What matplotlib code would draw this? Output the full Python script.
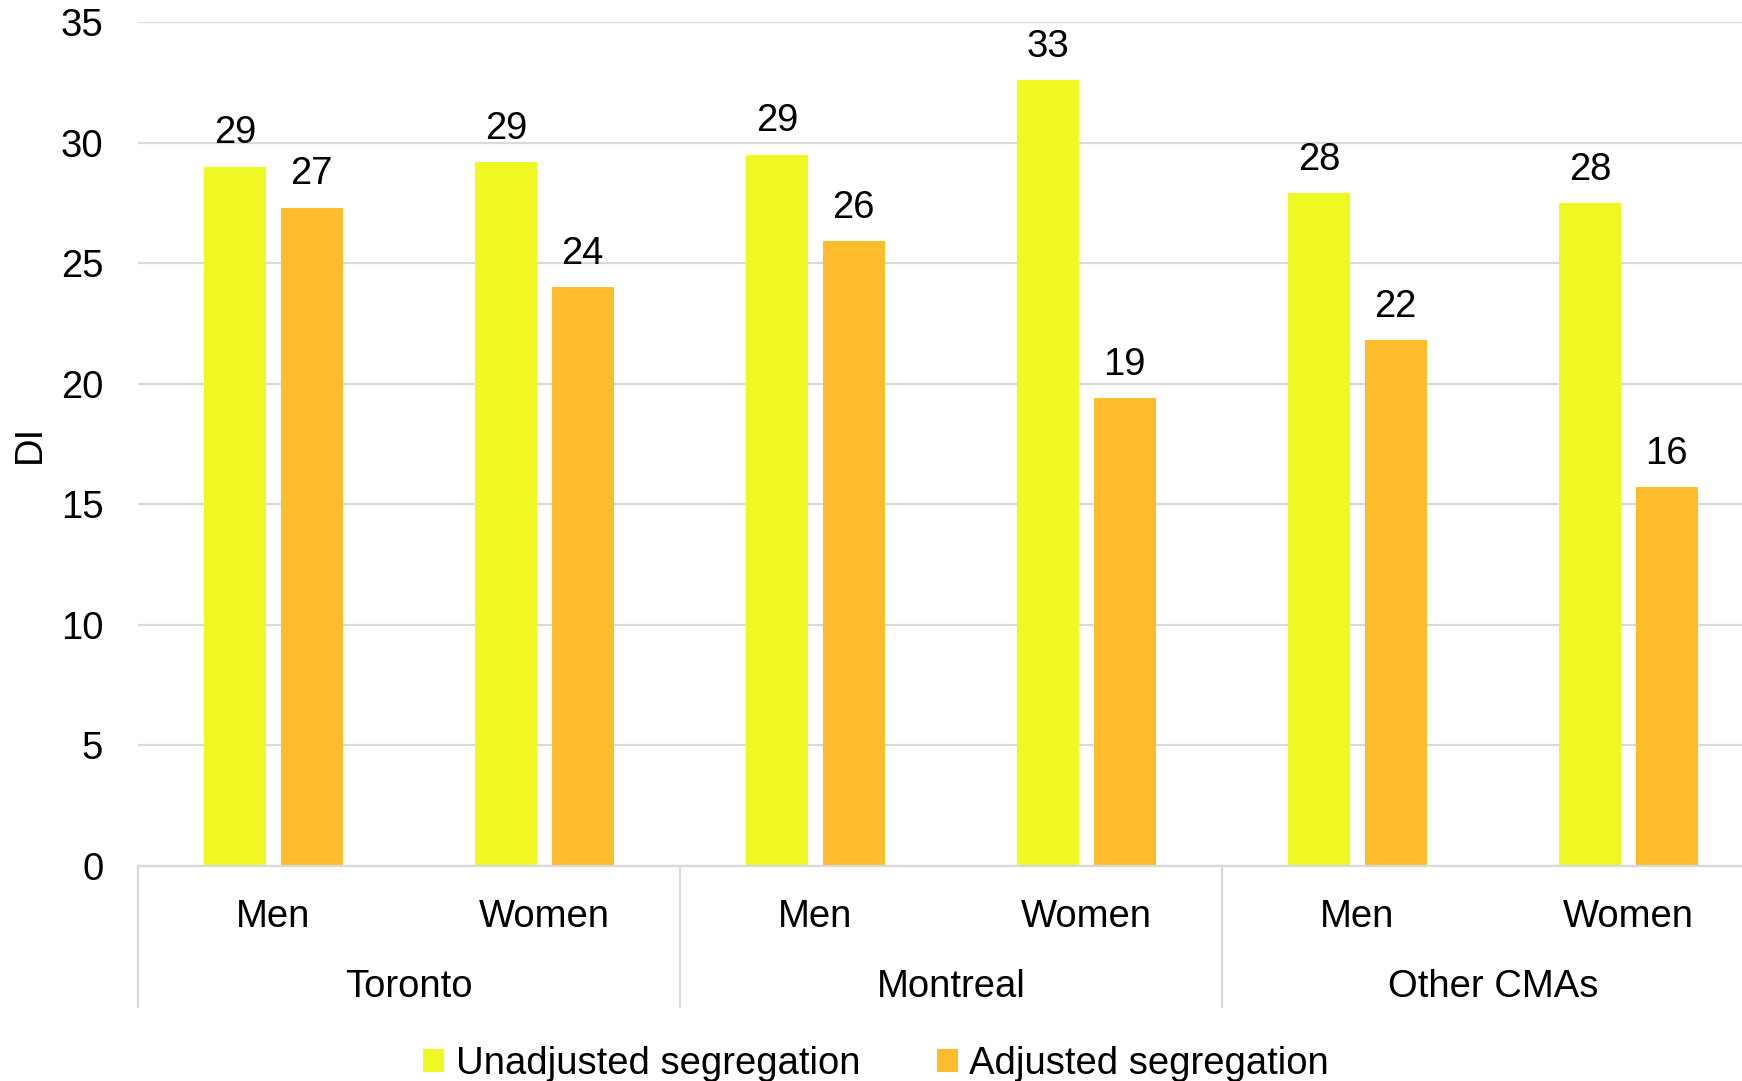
import matplotlib
matplotlib.use("Agg")
import matplotlib.pyplot as plt
from matplotlib.patches import Patch
import matplotlib.transforms as mtransforms
import numpy as np

plt.rcParams['font.family'] = ['Liberation Sans', 'DejaVu Sans']

groups = ["Toronto", "Montreal", "Other CMAs"]
sexes = ["Men", "Women"]
series_names = ["Unadjusted segregation", "Adjusted segregation"]
unadjusted = [29.0, 29.2, 29.5, 32.6, 27.9, 27.5]
adjusted = [27.3, 24.0, 25.9, 19.4, 21.8, 15.7]
labels_unadj = ["29", "29", "29", "33", "28", "28"]
labels_adj = ["27", "24", "26", "19", "22", "16"]
yticks = [0, 5, 10, 15, 20, 25, 30, 35]

c_unadj = "#f0f823"
c_adj = "#fdbc2c"
grid_c = "#d9d9d9"
fs = 27.5

W, H = 1742, 1081
fig = plt.figure(figsize=(W / 100, H / 100), dpi=100)
left, right = 138 / W, 1764 / W
bottom, top = (H - 866) / H, (H - 22) / H
ax = fig.add_axes([left, bottom, right - left, top - bottom])

n = len(unadjusted)
x = np.arange(n)
bw = 0.228
off = 0.141
b1 = ax.bar(x - off, unadjusted, bw, color=c_unadj, zorder=3)
b2 = ax.bar(x + off, adjusted, bw, color=c_adj, zorder=3)

for rects, labs in ((b1, labels_unadj), (b2, labels_adj)):
    for r, lab in zip(rects, labs):
        ax.annotate(lab, (r.get_x() + r.get_width() / 2, r.get_height()),
                    xytext=(0, 24), textcoords="offset points",
                    ha="center", va="center", fontsize=fs, color="black")

ax.set_xlim(-0.5, n - 0.5)
ax.set_ylim(0, 35)
ax.set_yticks(yticks)
ax.set_yticklabels([str(t) for t in yticks], fontsize=fs)
ax.tick_params(axis="y", length=0, pad=25)
ax.tick_params(axis="x", length=0, labelbottom=False)
ax.grid(axis="y", color=grid_c, linewidth=1.6, zorder=0)
for s in ["left", "right", "top"]:
    ax.spines[s].set_visible(False)
ax.spines["bottom"].set_color(grid_c)
ax.spines["bottom"].set_linewidth(1.6)
ax.spines["bottom"].set_zorder(4)

ax.set_ylabel("DI", fontsize=fs, va="center")
ax.yaxis.set_label_coords(-(138 - 30) / (1764 - 138), 0.5)

# multi-level category axis
ppx = 1 / (866 - 22)
trans = mtransforms.blended_transform_factory(ax.transData, ax.transAxes)
for i in range(n):
    ax.text(x[i], -(917 - 866) * ppx, sexes[i % 2], transform=trans,
            ha="center", va="center", fontsize=fs)
for g, name in enumerate(groups):
    ax.text(2 * g + 0.5, -(987 - 866) * ppx, name, transform=trans,
            ha="center", va="center", fontsize=fs)
for sx in [-0.5, 1.5, 3.5, 5.5]:
    ax.plot([sx, sx], [0, -(1007 - 866) * ppx], transform=trans,
            color=grid_c, linewidth=1.6, clip_on=False)

handles = [Patch(facecolor=c_unadj, edgecolor="none", label=series_names[0]),
           Patch(facecolor=c_adj, edgecolor="none", label=series_names[1])]
fig.legend(handles=handles, loc="center", bbox_to_anchor=(0.503, 0.016),
           ncol=2, frameon=False, fontsize=fs, handlelength=0.55,
           handleheight=0.55, handletextpad=0.3, columnspacing=2.0,
           borderaxespad=0, borderpad=0)

fig.savefig("out.png", dpi=100)
